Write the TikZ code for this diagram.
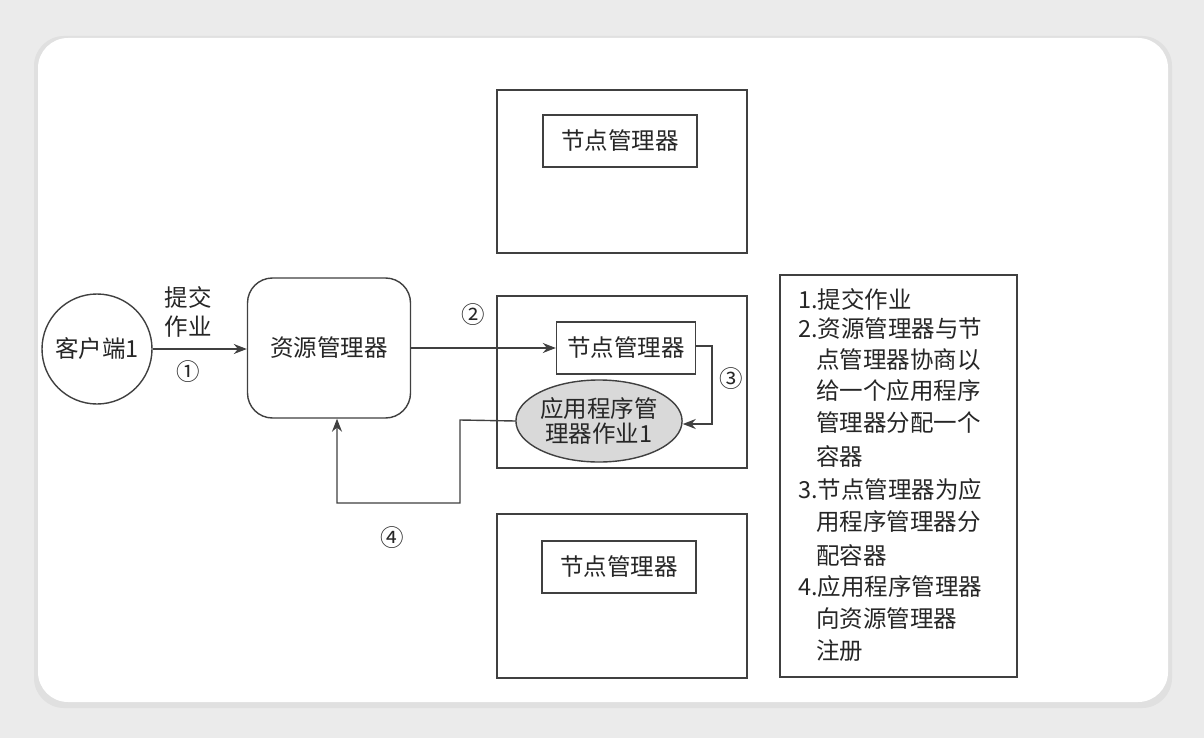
\documentclass[tikz,border=0pt]{standalone}
\usepackage{fontspec}
\setmainfont{Noto Sans CJK SC}
\usetikzlibrary{arrows.meta,shapes.geometric}
\begin{document}
\begin{tikzpicture}[x=1pt,y=-1pt,
  line/.style={draw=black!75,line width=1.4pt},
  arr/.style={line,-{Stealth[length=13pt,width=10pt]}},
  txt/.style={font=\fontsize{23.5}{25}\selectfont,text=black!85,inner sep=0pt},
  nm/.style={line,fill=white,minimum width=154pt,minimum height=52pt,txt},
  leg/.style={txt,anchor=west}]
\useasboundingbox (0,0) rectangle (1204,738);
\fill[black!8] (0,0) rectangle (1204,738);
\fill[black!12,rounded corners=30pt] (34,36) rectangle (1172,708);
\fill[white,rounded corners=30pt] (38,38) rectangle (1168,702);
% boxes
\draw[line] (497,90) rectangle (747,253);
\draw[line] (497,296) rectangle (747,468);
\draw[line] (497,514) rectangle (747,678);
\node[nm] (n1) at (620,141) {节点管理器};
\node[nm,minimum width=139pt] (n2) at (626,348) {节点管理器};
\node[nm] (n3) at (619,567) {节点管理器};
\node[line,fill=black!15,ellipse,minimum width=160pt,minimum height=82pt,inner sep=0pt,txt,align=center] (am) at (599,421) {应用程序管\\理器作业1};
\node[line,circle,minimum size=110pt,txt] (c) at (97,349) {客户端1};
\node[line,rounded corners=25pt,minimum width=163pt,minimum height=140pt,txt] (rm) at (329,348) {资源管理器};
% arrows
\draw[arr] (c.east) -- (rm.west |- c.east);
\node[txt] (l1a) at (188,297) {提交};
\node[txt] (l1b) at (188,327) {作业};
\node[txt] (l1c) at (188,372) {①};
\draw[arr] (rm.east) -- (n2.west);
\node[txt] (l2) at (473,315) {②};
\coordinate (a3) at (712,346);
\draw[arr] (n2.east |- a3) -- (a3) -- (712,424) -- (am.east |- 0,424);
\node[txt] (l3) at (731,379) {③};
\coordinate (b1) at (460,420);
\coordinate (b2) at (460,503);
\coordinate (b3) at (337,503);
\draw[arr] (am.west) -- (b1) -- (b2) -- (b3) -- (b3 |- rm.south);
\node[txt] (l4) at (392,538) {④};
% legend
\draw[line] (780,275) rectangle (1017,677);
\node[leg] (t1) at (798,299) {1.提交作业};
\node[leg] (t2) at (798,329) {2.资源管理器与节};
\node[leg] (t3) at (816,360) {点管理器协商以};
\node[leg] (t4) at (816,391) {给一个应用程序};
\node[leg] (t5) at (816,423) {管理器分配一个};
\node[leg] (t6) at (816,456) {容器};
\node[leg] (t7) at (798,490) {3.节点管理器为应};
\node[leg] (t8) at (816,522) {用程序管理器分};
\node[leg] (t9) at (816,555) {配容器};
\node[leg] (t10) at (798,587) {4.应用程序管理器};
\node[leg] (t11) at (816,619) {向资源管理器};
\node[leg] (t12) at (816,651) {注册};
\end{tikzpicture}
\end{document}
